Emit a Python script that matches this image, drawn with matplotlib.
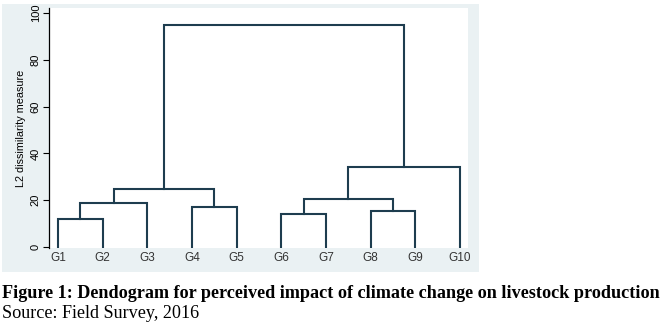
import numpy as np
import matplotlib.pyplot as plt
from matplotlib.patches import Rectangle

# leaves and agglomeration steps
leaves = ["G1", "G2", "G3", "G4", "G5", "G6", "G7", "G8", "G9", "G10"]
# each merge: (left node, right node, height); nodes >= 10 are earlier merges
merge_left = [0, 10, 3, 11, 5, 7, 14, 16, 13]
merge_right = [1, 2, 4, 12, 6, 8, 15, 9, 17]
merge_height = [12.0, 18.9, 17.2, 25.0, 14.0, 15.3, 20.6, 34.4, 95.0]

yticks = [0, 20, 40, 60, 80, 100]

W, H = 669, 327
fig = plt.figure(figsize=(W / 100, H / 100), dpi=100)
fig.patch.set_facecolor("white")

# Stata style outer panel
fig.patches.append(Rectangle((2 / W, 1 - 272 / H), 477 / W, 268 / H,
                             transform=fig.transFigure, facecolor="#eaf1f3",
                             edgecolor="none", zorder=-10))

ax = fig.add_axes([49 / W, 1 - 248 / H, 419 / W, 240 / H])
ax.set_facecolor("white")

line_col = "#1e3d4f"
n = len(leaves)
xpos = {i: i + 1.0 for i in range(n)}
ypos = {i: 0.0 for i in range(n)}
for k, (a, b, h) in enumerate(zip(merge_left, merge_right, merge_height)):
    xa, xb = xpos[a], xpos[b]
    ax.plot([xa, xa, xb, xb], [ypos[a], h, h, ypos[b]],
            color=line_col, lw=1.5, solid_joinstyle="miter", zorder=3)
    node = n + k
    xpos[node] = (xa + xb) / 2
    ypos[node] = h

ax.set_xlim(0.8, 10.18)
ax.set_ylim(-0.4, 102.1)

ax.set_xticks(np.arange(1, n + 1))
ax.set_xticklabels(leaves, fontsize=8.5, family="Liberation Sans", color="#333333")
ax.tick_params(axis="x", length=0, pad=3)
ax.set_yticks(yticks)
ax.set_yticklabels([str(t) for t in yticks], rotation=90, va="center",
                   fontsize=8, family="Liberation Sans")
ax.tick_params(axis="y", length=4, width=0.8, pad=2)
ax.set_ylabel("L2 dissimilarity measure", fontsize=7.8, family="Liberation Sans",
              labelpad=3)

for s in ["top", "right", "bottom"]:
    ax.spines[s].set_visible(False)
ax.spines["left"].set_linewidth(0.9)

fig.text(2 / W, 1 - 293 / H,
         "Figure 1: Dendogram for perceived impact of climate change on livestock production",
         fontsize=13.1, fontweight="bold", family="Liberation Serif", va="center", ha="left")
fig.text(2 / W, 1 - 313 / H, "Source: Field Survey, 2016",
         fontsize=13.1, family="Liberation Serif", va="center", ha="left")

fig.savefig("out.png", dpi=100)
